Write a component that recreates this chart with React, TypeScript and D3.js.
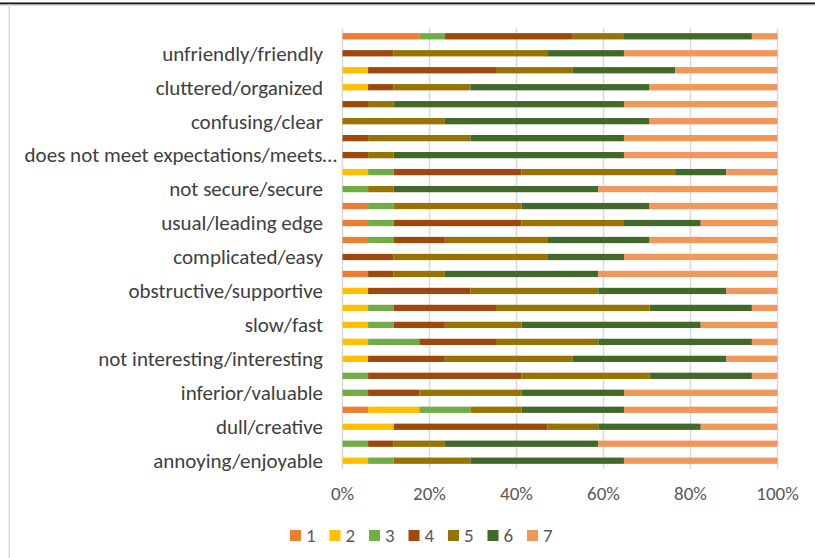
import React from "react";
import * as d3 from "d3";

// UEQ items, bottom to top (Excel category order)
const categories = [
  "annoying/enjoyable",
  "not understandable/understandable",
  "dull/creative",
  "difficult to learn/easy to learn",
  "inferior/valuable",
  "boring/exciting",
  "not interesting/interesting",
  "unpredictable/predictable",
  "slow/fast",
  "conventional/inventive",
  "obstructive/supportive",
  "bad/good",
  "complicated/easy",
  "unlikable/pleasing",
  "usual/leading edge",
  "unpleasant/pleasant",
  "not secure/secure",
  "demotivating/motivating",
  "does not meet expectations/meets expectations",
  "inefficient/efficient",
  "confusing/clear",
  "impractical/practical",
  "cluttered/organized",
  "unattractive/attractive",
  "unfriendly/friendly",
  "conservative/innovative",
];

// answer counts per scale point (17 respondents), same order as categories
const level1 = [0, 0, 0, 1, 0, 0, 0, 0, 0, 0, 0, 1, 0, 1, 1, 1, 0, 0, 0, 0, 0, 0, 0, 0, 0, 3];
const level2 = [1, 0, 2, 2, 0, 0, 1, 1, 1, 1, 1, 0, 0, 0, 0, 0, 0, 1, 0, 0, 0, 0, 1, 1, 0, 0];
const level3 = [1, 1, 0, 2, 1, 1, 0, 2, 1, 1, 0, 0, 0, 1, 1, 1, 1, 1, 0, 0, 0, 0, 0, 0, 0, 1];
const level4 = [0, 1, 6, 0, 2, 6, 3, 3, 2, 4, 4, 1, 2, 2, 5, 0, 0, 5, 1, 1, 0, 1, 1, 5, 2, 5];
const level5 = [3, 2, 2, 2, 4, 5, 5, 4, 3, 6, 5, 2, 6, 4, 4, 5, 1, 6, 1, 4, 4, 1, 3, 3, 6, 2];
const level6 = [6, 6, 4, 4, 4, 4, 6, 6, 7, 4, 5, 6, 3, 4, 3, 5, 8, 2, 9, 6, 8, 9, 7, 4, 3, 5];
const level7 = [6, 7, 3, 6, 6, 1, 2, 1, 3, 1, 2, 7, 6, 5, 3, 5, 7, 2, 6, 6, 5, 6, 5, 4, 6, 1];

const seriesNames = ["1", "2", "3", "4", "5", "6", "7"];
const xTicks = [0, 0.2, 0.4, 0.6, 0.8, 1];

const colors = ["#ED7D31", "#FFC000", "#70AD47", "#9E480E", "#997300", "#43682B", "#F1975A"];

const W = 815;
const H = 558;
const FONT = "Calibri, Carlito, Lato, sans-serif";

const shorten = (s: string) => (s.length > 32 ? s.slice(0, 32) + "…" : s);

const App: React.FC = () => {
  const levels = [level1, level2, level3, level4, level5, level6, level7];
  const rows = categories.map((c, i) => {
    const r: Record<string, any> = { cat: c };
    seriesNames.forEach((s, j) => (r[s] = levels[j][i]));
    return r;
  });

  const stacked = d3
    .stack<any>()
    .keys(seriesNames)
    .offset(d3.stackOffsetExpand)(rows);

  const x = d3.scaleLinear().domain([0, 1]).range([342.5, 777.5]);
  const y = d3
    .scaleBand<string>()
    .domain([...categories].reverse())
    .range([27.8, 469.2])
    .paddingInner(0.63)
    .paddingOuter(0.315);

  const fmt = d3.format(".0%");
  const legendX = d3.scaleLinear().domain([0, 1]).range([290, 329.5]);

  return (
    <svg
      width={W}
      height={H}
      style={{ position: "absolute", left: 0, top: 0, background: "#fff" }}
      fontFamily={FONT}
    >
      {/* page frame bits */}
      <rect x={0} y={2.5} width={W} height={2} fill="#111" />
      <rect x={0} y={4.5} width={W} height={1.5} fill="#d9d9d9" />
      <rect x={8.5} y={4.5} width={1.5} height={H} fill="#d9d9d9" />

      {/* gridlines */}
      {xTicks.map((t) => (
        <line
          key={t}
          x1={x(t)}
          x2={x(t)}
          y1={28}
          y2={469}
          stroke="#d9d9d9"
          strokeWidth={1.5}
        />
      ))}

      {/* bars */}
      {stacked.map((layer, li) => (
        <g key={layer.key} fill={colors[li]}>
          {layer.map((d, i) =>
            d[1] - d[0] > 0 ? (
              <rect
                key={i}
                x={x(d[0])}
                width={x(d[1]) - x(d[0])}
                y={y(d.data.cat)}
                height={y.bandwidth()}
              />
            ) : null
          )}
        </g>
      ))}

      {/* category labels, every other one like Excel */}
      {categories.map((c, i) =>
        i % 2 === 0 ? (
          <text
            key={c}
            x={shorten(c) !== c ? 337 : 323}
            y={(y(c) as number) + y.bandwidth() / 2}
            dy="0.35em"
            textAnchor="end"
            fontSize={21}
            fill="#404040"
          >
            {shorten(c)}
          </text>
        ) : null
      )}

      {/* x tick labels */}
      {xTicks.map((t) => (
        <text
          key={t}
          x={x(t)}
          y={493}
          dy="0.35em"
          textAnchor="middle"
          fontSize={19}
          fill="#595959"
        >
          {fmt(t)}
        </text>
      ))}

      {/* legend */}
      {seriesNames.map((s, i) => (
        <g key={s} transform={`translate(${legendX(i)},530)`}>
          <rect width={11} height={11} fill={colors[i]} />
          <text x={16} y={5.5} dy="0.35em" fontSize={19} fill="#595959">
            {s}
          </text>
        </g>
      ))}
    </svg>
  );
};

export default App;
